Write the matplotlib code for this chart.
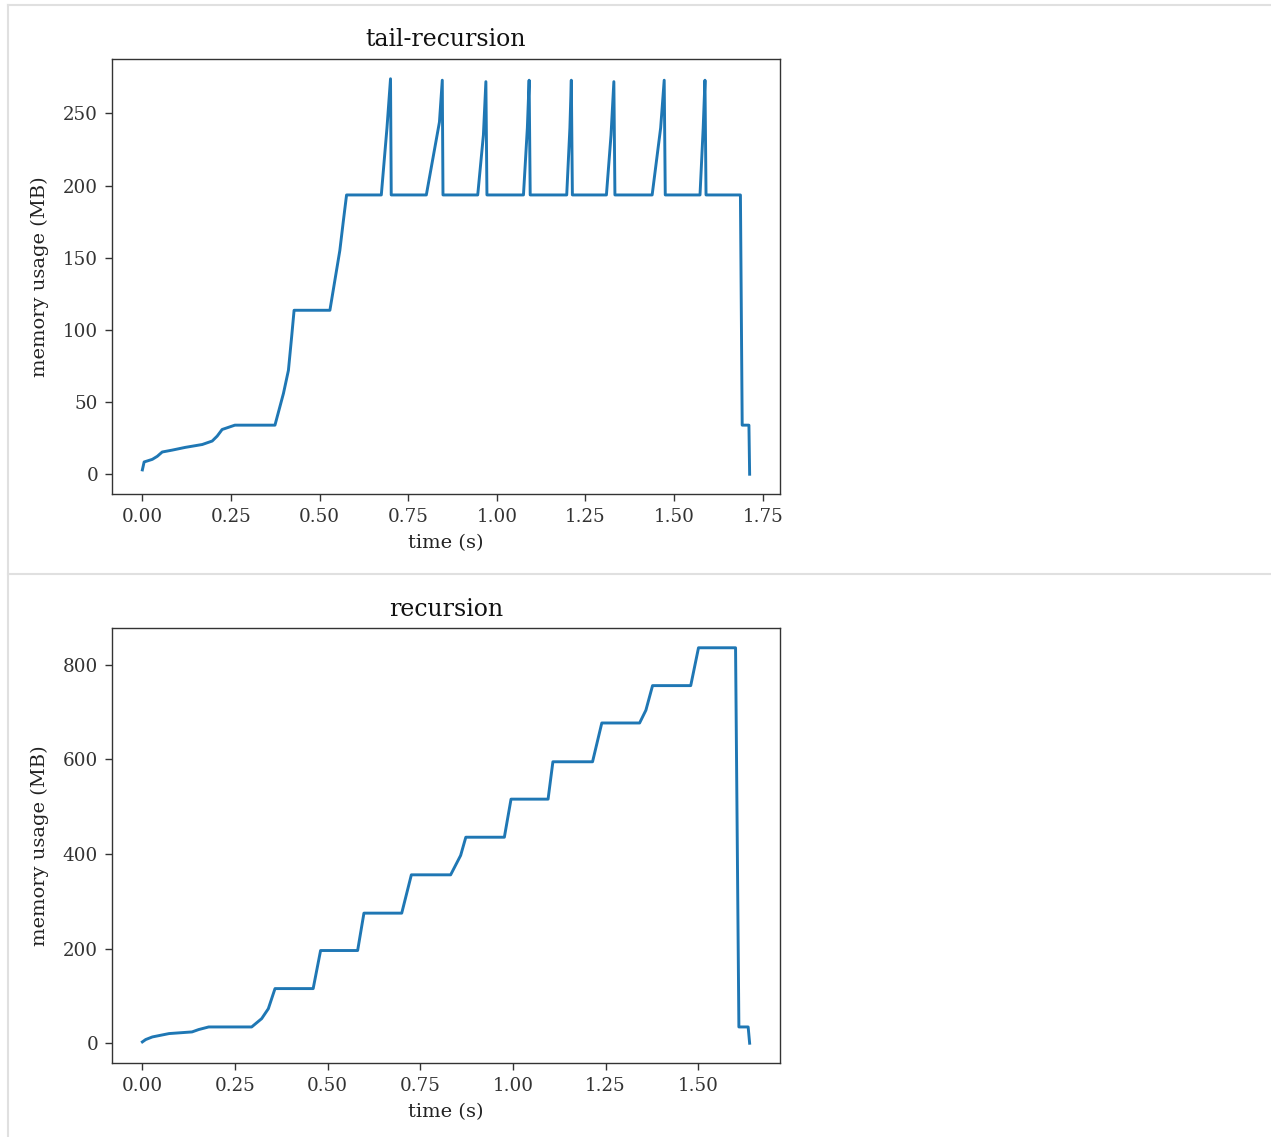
import matplotlib
matplotlib.use("Agg")
import matplotlib.pyplot as plt
from matplotlib.lines import Line2D

# ---- data: tail-recursion ----
tail_t = [0.000, 0.005, 0.028, 0.042, 0.056, 0.084, 0.121, 0.169, 0.197, 0.211, 0.225, 0.261,
          0.374, 0.398, 0.412, 0.421, 0.428, 0.529, 0.557, 0.567, 0.576,
          0.674, 0.690, 0.700, 0.702,
          0.801, 0.838, 0.846, 0.848,
          0.946, 0.962, 0.969, 0.972,
          1.075, 1.086, 1.091, 1.094,
          1.197, 1.206, 1.210, 1.213,
          1.309, 1.322, 1.330, 1.333,
          1.438, 1.462, 1.472, 1.475,
          1.573, 1.582, 1.587, 1.590,
          1.687, 1.692, 1.711, 1.713]
tail_mem = [3, 8.5, 10.3, 12.4, 15.4, 16.7, 18.6, 20.6, 23, 26.4, 31, 34,
            34, 56, 72, 95, 113.6, 113.6, 155, 175.6, 193.5,
            193.5, 240, 274, 193.5,
            193.5, 244, 273, 193.5,
            193.5, 235, 272, 193.5,
            193.5, 240, 273, 193.5,
            193.5, 240, 273, 193.5,
            193.5, 235, 272, 193.5,
            193.5, 240, 273, 193.5,
            193.5, 240, 273, 193.5,
            193.5, 34, 34, 0]

# ---- data: recursion ----
rec_t = [0.000, 0.009, 0.027, 0.072, 0.134, 0.152, 0.179, 0.295, 0.322, 0.340, 0.358,
         0.461, 0.481, 0.581, 0.598, 0.700, 0.726, 0.832, 0.859, 0.873,
         0.977, 0.995, 1.095, 1.108, 1.215, 1.240, 1.342, 1.359, 1.377,
         1.480, 1.501, 1.601, 1.610, 1.635, 1.639]
rec_mem = [2.8, 7.8, 13.3, 20.4, 23.9, 28.9, 34.4, 34.4, 52, 73, 115.5,
           115.5, 196, 196, 275, 275, 356, 356, 397, 435.5,
           435.5, 516, 516, 595, 595, 677, 677, 704, 756,
           756, 836, 836, 34.4, 34.4, 0]

titles = ["tail-recursion", "recursion"]
xlabel = "time (s)"
ylabel = "memory usage (MB)"

plt.rcParams['font.family'] = ['DejaVu Serif']

W, H = 1271, 1137
fig = plt.figure(figsize=(W / 100, H / 100), dpi=100)

# notebook output cell borders
border = '#e0e0e0'
fig.add_artist(Line2D([8 / W, 1], [1 - 5 / H, 1 - 5 / H], color=border, lw=1.5, transform=fig.transFigure))
fig.add_artist(Line2D([8 / W, 8 / W], [0, 1 - 5 / H], color=border, lw=1.5, transform=fig.transFigure))
fig.add_artist(Line2D([8 / W, 1], [1 - 574 / H, 1 - 574 / H], color=border, lw=1.5, transform=fig.transFigure))

boxes = [(112, 59, 780, 494), (112, 628, 780, 1063)]
series = [(tail_t, tail_mem), (rec_t, rec_mem)]

for (l, t, r, b), (xs, ys), title in zip(boxes, series, titles):
    ax = fig.add_axes([l / W, 1 - b / H, (r - l) / W, (b - t) / H])
    ax.plot(xs, ys, color='#1f77b4', lw=2.1)
    ax.set_title(title, fontsize=17, pad=9, color='#111111')
    ax.set_xlabel(xlabel, fontsize=14, color='#222222', labelpad=6)
    ax.set_ylabel(ylabel, fontsize=14, color='#222222', labelpad=10)
    ax.tick_params(labelsize=13.2, colors='#333333', length=5, width=1.0, pad=5)
    for sp in ax.spines.values():
        sp.set_color('#333333')
        sp.set_linewidth(1.0)

fig.savefig("out.png", dpi=100, facecolor='white')
